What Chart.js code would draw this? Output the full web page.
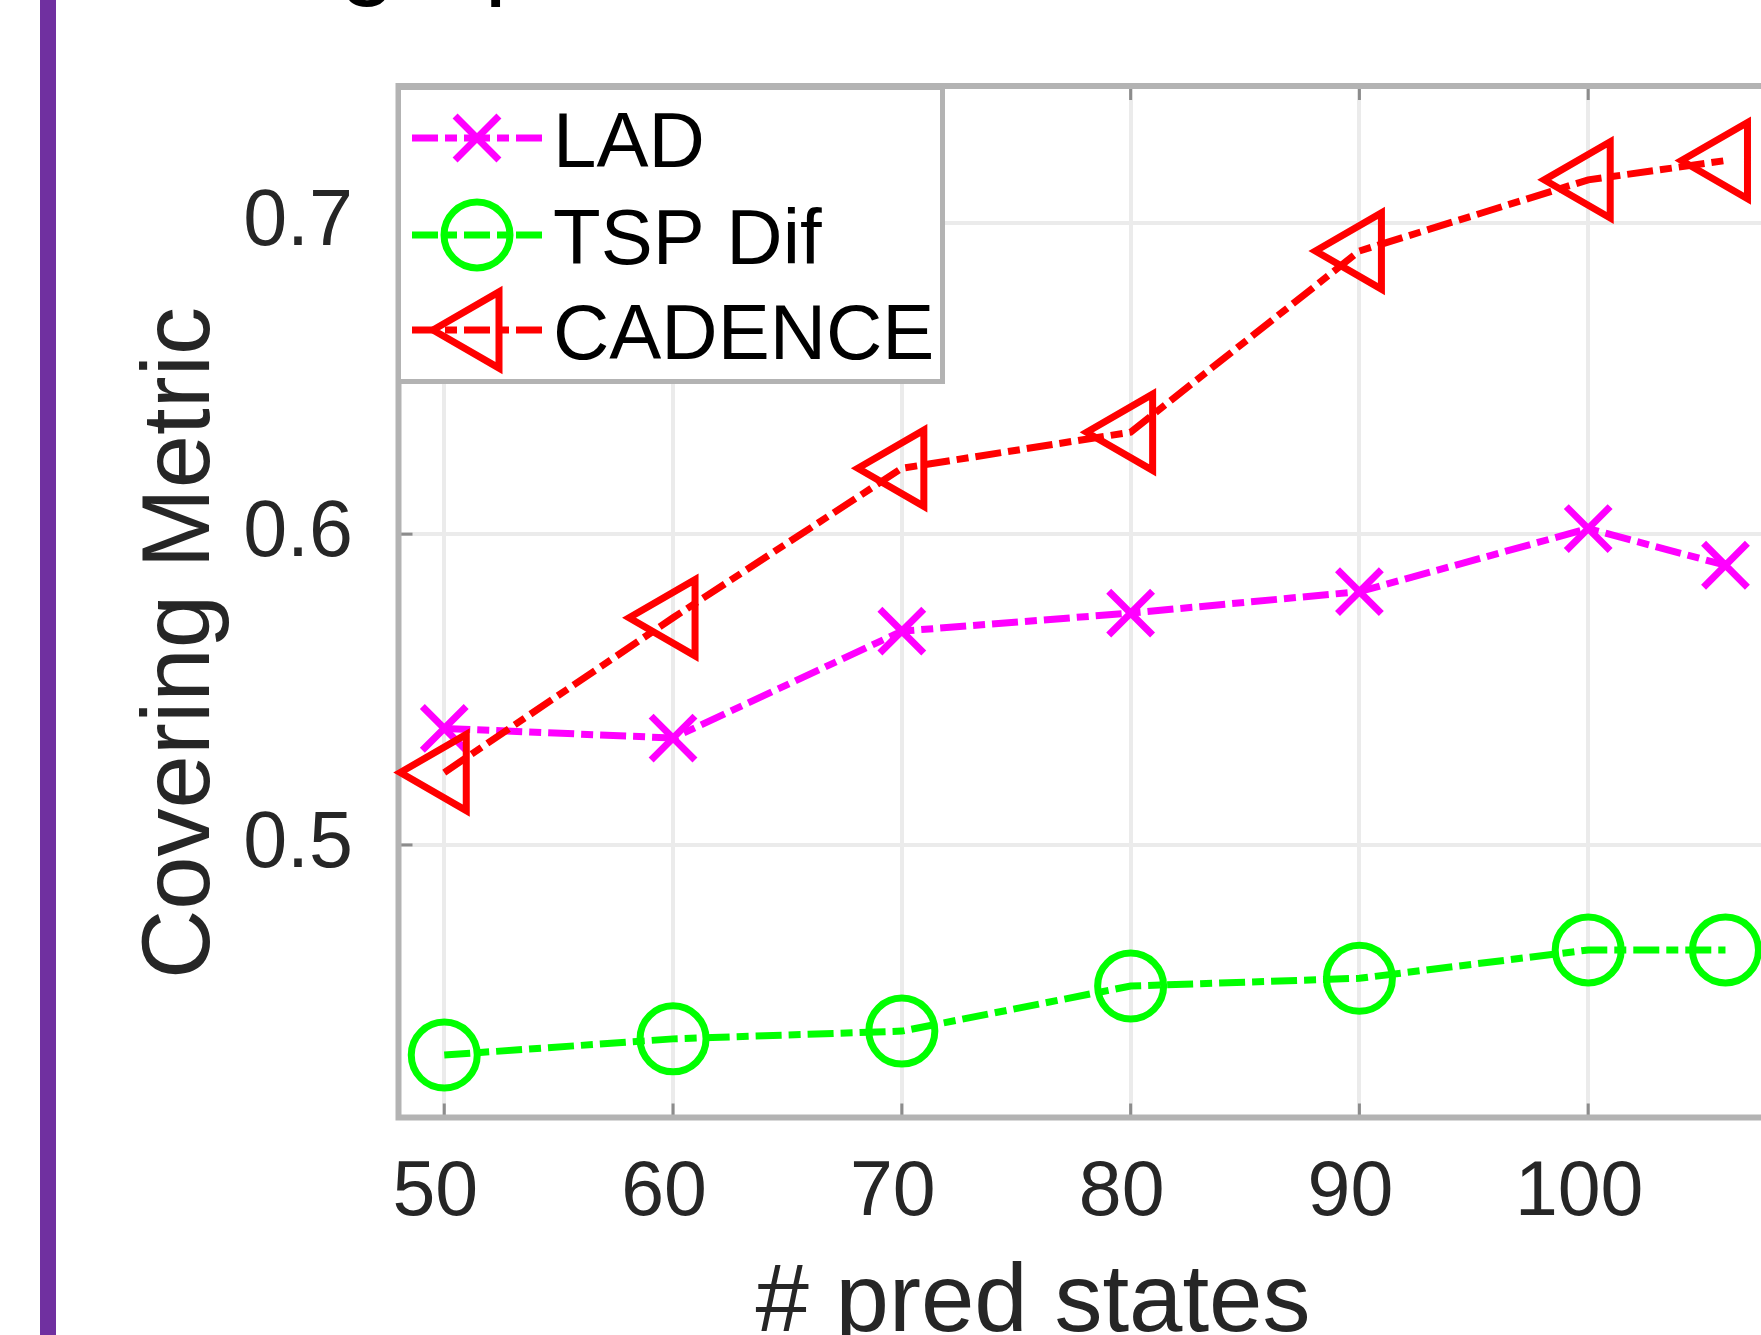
<!DOCTYPE html>
<html><head><meta charset="utf-8">
<script src="https://cdn.jsdelivr.net/npm/chart.js@4/dist/chart.umd.min.js"></script>
<style>
html,body{margin:0;padding:0;background:#fff;overflow:hidden;width:1761px;height:1335px;}
#wrap{position:absolute;left:0;top:0;width:1868px;height:1335px;}
#bar{position:absolute;left:40px;top:0;width:16px;height:1335px;background:#7030A0;}
</style></head><body>
<div id="wrap"><canvas id="c" width="1868" height="1335"></canvas></div>
<div id="bar"></div>
<script>
// ---- data ----
const xValues = [50, 60, 70, 80, 90, 100, 106];
const lad     = [0.5375, 0.5344, 0.5688, 0.5746, 0.5815, 0.6018, 0.5900];
const tspDif  = [0.4324, 0.4376, 0.4401, 0.4546, 0.4571, 0.4662, 0.4662];
const cadence = [0.5233, 0.5731, 0.6212, 0.6328, 0.6911, 0.7140, 0.7202];
const seriesNames = ['LAD', 'TSP Dif', 'CADENCE'];
const xTicks = [50, 60, 70, 80, 90, 100];
const xTickLabels = ['50', '60', '70', '80', '90', '100'];
const yTicks = [0.5, 0.6, 0.7];
const yTickLabels = ['0.5', '0.6', '0.7'];
const xTitle = '# pred states';
const yTitle = 'Covering Metric';
const headerText = 'graph';

// ---- styles ----
const FONT = '"Liberation Sans", Arial, Helvetica, sans-serif';
const DASH = [26, 7, 12, 7];
const AXIS_GRAY = '#b3b3b3';
const TEXT = '#262626';
const LINE_W = 7;
const MARK_W = 7;
const seriesStyle = [
  {color: '#ff00ff', pointStyle: 'crossRot', radius: 31, rotation: 0, order: 2},
  {color: '#00ff00', pointStyle: 'circle',   radius: 33, rotation: 0, order: 1},
  {color: '#ff0000', pointStyle: 'triangle', radius: 44, rotation: -90, order: 0}
];
const seriesValues = [lad, tspDif, cadence];

const datasets = seriesValues.map((vals, k) => ({
  label: seriesNames[k],
  data: xValues.map((x, i) => ({x: x, y: vals[i]})),
  borderColor: seriesStyle[k].color,
  backgroundColor: 'rgba(0,0,0,0)',
  borderWidth: LINE_W,
  borderDash: DASH,
  borderCapStyle: 'butt',
  tension: 0,
  fill: false,
  clip: false,
  order: seriesStyle[k].order,
  pointStyle: seriesStyle[k].pointStyle,
  pointRadius: seriesStyle[k].radius,
  pointHoverRadius: seriesStyle[k].radius,
  pointRotation: seriesStyle[k].rotation,
  pointBorderColor: seriesStyle[k].color,
  pointBackgroundColor: 'rgba(0,0,0,0)',
  pointBorderWidth: MARK_W
}));

const zeroPad = s => { s.paddingLeft = 0; s.paddingRight = 0; s.paddingTop = 0; s.paddingBottom = 0; };

const decorPlugin = {
  id: 'decor',
  beforeDatasetsDraw(chart) {
    const {ctx, chartArea: a, scales} = chart;
    ctx.save();
    ctx.strokeStyle = '#8c8c8c';
    ctx.lineWidth = 3;
    ctx.setLineDash([]);
    xTicks.forEach(v => {
      const px = scales.x.getPixelForValue(v);
      ctx.beginPath();
      ctx.moveTo(px, a.bottom); ctx.lineTo(px, a.bottom - 14);
      ctx.moveTo(px, a.top); ctx.lineTo(px, a.top + 14);
      ctx.stroke();
    });
    yTicks.forEach(v => {
      const py = scales.y.getPixelForValue(v);
      ctx.beginPath();
      ctx.moveTo(a.left, py); ctx.lineTo(a.left + 14, py);
      ctx.stroke();
    });
    ctx.strokeStyle = AXIS_GRAY;
    ctx.lineWidth = 6;
    ctx.strokeRect(a.left, a.top, a.right - a.left, a.bottom - a.top);
    ctx.restore();
  },
  afterDraw(chart) {
    const {ctx} = chart;
    ctx.save();
    ctx.fillStyle = TEXT;
    ctx.font = '96px ' + FONT;
    ctx.textAlign = 'center';
    ctx.textBaseline = 'alphabetic';
    ctx.fillText(xTitle, 1033, 1331);
    ctx.save();
    ctx.translate(209, 643);
    ctx.rotate(-Math.PI / 2);
    ctx.fillText(yTitle, 0, 0);
    ctx.restore();
    ctx.fillStyle = '#000';
    ctx.font = '100px ' + FONT;
    ctx.textAlign = 'left';
    ctx.fillText(headerText, 340, -14);

    // legend
    const L = 398.5, T = 87.5, R = 942.5, B = 381.5;
    ctx.fillStyle = '#ffffff';
    ctx.fillRect(L, T, R - L, B - T);
    ctx.strokeStyle = AXIS_GRAY;
    ctx.lineWidth = 5;
    ctx.setLineDash([]);
    ctx.strokeRect(L, T, R - L, B - T);
    const rows = [138, 235, 330];
    seriesNames.forEach((name, k) => {
      const y = rows[k];
      const st = seriesStyle[k];
      ctx.strokeStyle = st.color;
      ctx.lineWidth = LINE_W;
      ctx.lineCap = 'butt';
      ctx.setLineDash(DASH);
      ctx.beginPath();
      ctx.moveTo(412, y); ctx.lineTo(542, y);
      ctx.stroke();
      ctx.setLineDash([]);
      ctx.fillStyle = 'rgba(0,0,0,0)';
      ctx.strokeStyle = st.color;
      ctx.lineWidth = MARK_W;
      Chart.helpers.drawPoint(ctx, {pointStyle: st.pointStyle, rotation: st.rotation, radius: st.radius, borderWidth: MARK_W}, 477, y);
      ctx.fillStyle = '#000';
      ctx.font = '78px ' + FONT;
      ctx.textAlign = 'left';
      ctx.textBaseline = 'alphabetic';
      ctx.fillText(name, 553, y + 28.5);
    });
    ctx.restore();
  }
};

new Chart(document.getElementById('c'), {
  type: 'line',
  data: {datasets: datasets},
  options: {
    responsive: false,
    animation: false,
    events: [],
    devicePixelRatio: 1,
    layout: {padding: {left: 0, top: 86, right: 15.5, bottom: 0}},
    plugins: {legend: {display: false}, tooltip: {enabled: false}},
    scales: {
      x: {
        type: 'linear',
        min: 48, max: 110,
        border: {display: false},
        grid: {color: '#ebebeb', lineWidth: 4, drawTicks: false},
        afterBuildTicks: s => { s.ticks = xTicks.map(v => ({value: v})); },
        afterFit: s => { s.height = 217.5; zeroPad(s); },
        ticks: {
          autoSkip: false, maxRotation: 0, minRotation: 0,
          padding: 30, labelOffset: -9,
          color: TEXT, font: {family: FONT, size: 77},
          callback: (v) => { const i = xTicks.indexOf(v); return i >= 0 ? xTickLabels[i] : ''; }
        }
      },
      y: {
        type: 'linear',
        min: 0.4123, max: 0.7442,
        border: {display: false},
        grid: {color: '#ebebeb', lineWidth: 4, drawTicks: false},
        afterBuildTicks: s => { s.ticks = yTicks.map(v => ({value: v})); },
        afterFit: s => { s.width = 398.5; zeroPad(s); },
        ticks: {
          autoSkip: false, padding: 45.5,
          color: TEXT, font: {family: FONT, size: 79},
          callback: (v) => { const i = yTicks.indexOf(v); return i >= 0 ? yTickLabels[i] : ''; }
        }
      }
    }
  },
  plugins: [decorPlugin]
});
</script>
</body></html>
